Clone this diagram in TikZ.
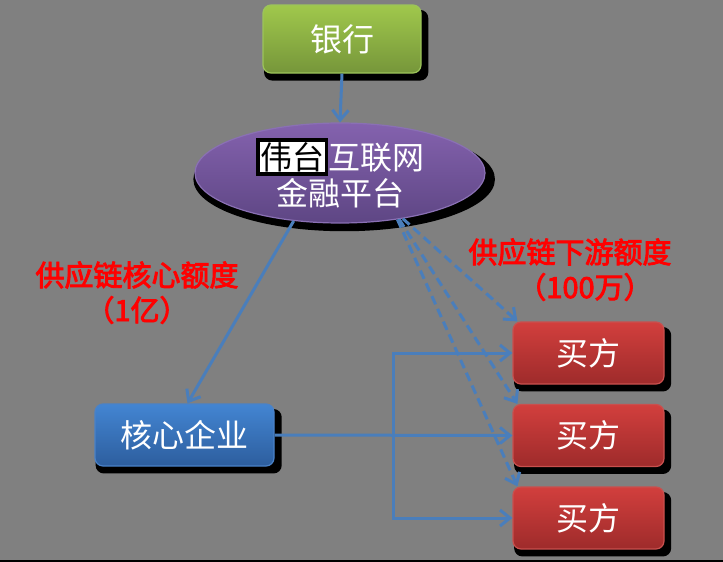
\documentclass[tikz,border=0pt]{standalone}
\usepackage{fontspec}
\newfontfamily\cjk{Noto Sans CJK SC}
\newfontfamily\cjkb[FakeBold=3]{Noto Sans CJK SC}
\usetikzlibrary{arrows.meta,shadows,shapes.geometric}
\definecolor{bg}{HTML}{808080}
\definecolor{lineblue}{HTML}{4A7EBB}
\definecolor{gtop}{HTML}{A0C84C}
\definecolor{gbot}{HTML}{76963A}
\definecolor{gbd}{HTML}{9CC45A}
\definecolor{ptop}{HTML}{8462AE}
\definecolor{pbot}{HTML}{5E4684}
\definecolor{pbd}{HTML}{8A70B4}
\definecolor{btop}{HTML}{4385D2}
\definecolor{bbot}{HTML}{2D5E9E}
\definecolor{bbd}{HTML}{4A82C8}
\definecolor{rtop}{HTML}{D23F3D}
\definecolor{rbot}{HTML}{9E2B2B}
\definecolor{rbd}{HTML}{C9504E}
\begin{document}
\begin{tikzpicture}[x=1pt,y=-1pt,
  txt/.style={text=white,font=\cjk\fontsize{32}{36}\selectfont,inner sep=0pt},
  shd/.style={drop shadow={shadow xshift=4pt,shadow yshift=-6pt,shadow scale=1.04,fill=black,opacity=1}},
  boxn/.style={txt,shd,rounded corners=8pt,line width=1.2pt},
  bankbox/.style={boxn,top color=gtop,bottom color=gbot,draw=gbd,minimum width=158pt,minimum height=68pt},
  corebox/.style={boxn,top color=btop,bottom color=bbot,draw=bbd,minimum width=179pt,minimum height=62pt},
  buybox/.style={boxn,top color=rtop,bottom color=rbot,draw=rbd,minimum width=151pt,minimum height=62pt},
  platell/.style={txt,shd,ellipse,top color=ptop,bottom color=pbot,draw=pbd,line width=1.2pt,minimum width=290pt,minimum height=100pt,align=center},
  arr/.style={draw=lineblue,line width=3pt,-{Straight Barb[length=10pt,width=16pt]}},
  darr/.style={arr,dash pattern=on 9pt off 5pt},
  lab/.style={text=red,font=\cjkb\fontsize{29}{32}\selectfont,inner sep=0pt}
]
\fill[bg] (0,0) rectangle (723,562);
\useasboundingbox (0,0) rectangle (723,562);
\fill[black] (0,560) rectangle (723,562);

\node[bankbox] (bank) at (342,39) {银行};
\node[platell] (plat) at (340,173) {\setlength\fboxrule{3.5pt}\setlength\fboxsep{0.5pt}\fcolorbox{black}{white}{\textcolor{black}{伟台}}互联网\\金融平台};
\node[corebox] (core) at (184.5,435) {核心企业};
\node[buybox] (b1) at (588.5,353) {买方};
\node[buybox] (b2) at (588.5,435.5) {买方};
\node[buybox] (b3) at (588.5,518) {买方};

\node[lab] (l1) at (137,275) {供应链核心额度};
\node[lab] (l2) at (137,310) {（1亿）};
\node[lab] (l3) at (570,252) {供应链下游额度};
\node[lab] (l4) at (585,287) {（100万）};

\draw[arr] (bank.south) -- (plat.north);
\draw[arr] (plat.-134) -- ([xshift=3pt]core.north);
\draw[arr] (core.east) -- (b2.west);
\coordinate (j) at (393,435.5);
\draw[arr] (j) |- (b1.west);
\draw[arr] (j) |- (b3.west);
\draw[darr] (plat.-36) -- ([xshift=5pt]b1.north west);
\draw[darr] (plat.-38) -- ([xshift=5pt]b2.north west);
\draw[darr] (plat.-39) -- ([xshift=5pt]b3.north west);
\end{tikzpicture}
\end{document}
